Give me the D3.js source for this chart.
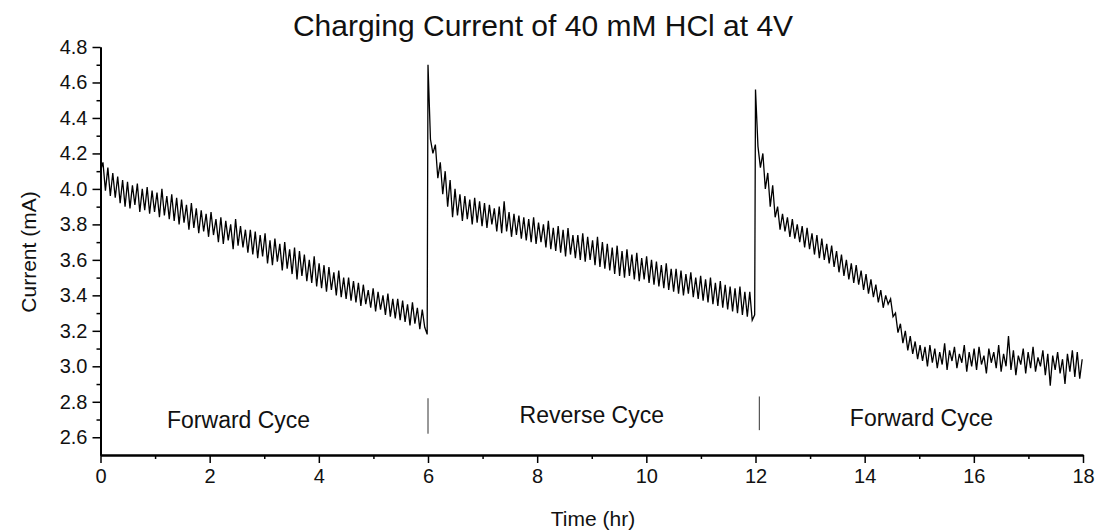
<!DOCTYPE html>
<html>
<head>
<meta charset="utf-8">
<script src="https://cdn.jsdelivr.net/npm/d3@7"></script>
<style>
  html, body { margin: 0; padding: 0; background: #fff; }
  svg { display: block; }
  text { font-family: "Liberation Sans", Arial, sans-serif; fill: #111; }
</style>
</head>
<body>
<svg id="chart" width="1112" height="531"></svg>
<script>
// ---- data ----
const titleText = "Charging Current of 40 mM HCl at 4V";
const xLabel = "Time (hr)";
const yLabel = "Current (mA)";
const xMajorTicks = [0, 2, 4, 6, 8, 10, 12, 14, 16, 18];
const xMinorTicks = [1, 3, 5, 7, 9, 11, 13, 15, 17];
const yMajorTicks = [2.6, 2.8, 3.0, 3.2, 3.4, 3.6, 3.8, 4.0, 4.2, 4.4, 4.6, 4.8];
const yMinorTicks = [2.7, 2.9, 3.1, 3.3, 3.5, 3.7, 3.9, 4.1, 4.3, 4.5, 4.7];
const cycleNames = ["Forward Cyce", "Reverse Cyce", "Forward Cyce"];
const cycleLabelTimes = [2.53, 9.0, 15.04];
const cycleLabelValues = [2.65, 2.68, 2.665];
const cycleDividerTimes = [6.0, 12.07];

const sampleStep = 0.045;          // hours between samples
const segmentStarts = [0, 6, 12];  // hours

const forwardCycle1 = [
  4.10, 4.15, 3.99, 4.12, 3.96, 4.09, 3.95, 4.07, 3.92, 4.05,
  3.90, 4.04, 3.89, 4.02, 3.91, 4.03, 3.87, 4.00, 3.88, 4.01,
  3.86, 3.99, 3.87, 3.98, 3.84, 4.00, 3.85, 3.96, 3.83, 3.97,
  3.82, 3.95, 3.80, 3.94, 3.81, 3.91, 3.77, 3.92, 3.78, 3.89,
  3.75, 3.88, 3.76, 3.86, 3.73, 3.87, 3.74, 3.83, 3.70, 3.84,
  3.69, 3.82, 3.71, 3.80, 3.66, 3.83, 3.68, 3.79, 3.67, 3.77,
  3.64, 3.77, 3.63, 3.76, 3.61, 3.74, 3.62, 3.75, 3.58, 3.71,
  3.57, 3.72, 3.59, 3.69, 3.54, 3.70, 3.55, 3.66, 3.52, 3.67,
  3.49, 3.65, 3.51, 3.63, 3.48, 3.60, 3.47, 3.62, 3.45, 3.58,
  3.44, 3.57, 3.42, 3.56, 3.43, 3.53, 3.40, 3.54, 3.39, 3.50,
  3.38, 3.50, 3.37, 3.48, 3.36, 3.47, 3.34, 3.46, 3.35, 3.43,
  3.33, 3.44, 3.31, 3.42, 3.32, 3.40, 3.29, 3.41, 3.28, 3.38,
  3.27, 3.38, 3.26, 3.37, 3.25, 3.35, 3.23, 3.36, 3.24, 3.33,
  3.21, 3.32, 3.22, 3.18
];

const reverseCycle = [
  4.70, 4.28, 4.20, 4.25, 4.06, 4.15, 3.97, 4.10, 3.90, 4.05,
  3.84, 4.00, 3.85, 3.97, 3.82, 3.96, 3.83, 3.94, 3.80, 3.95,
  3.81, 3.93, 3.79, 3.92, 3.78, 3.91, 3.80, 3.89, 3.76, 3.90,
  3.75, 3.93, 3.76, 3.87, 3.73, 3.86, 3.74, 3.85, 3.72, 3.84,
  3.71, 3.83, 3.70, 3.84, 3.69, 3.81, 3.70, 3.80, 3.67, 3.82,
  3.66, 3.78, 3.65, 3.79, 3.64, 3.77, 3.62, 3.78, 3.63, 3.74,
  3.61, 3.74, 3.60, 3.75, 3.59, 3.73, 3.60, 3.71, 3.57, 3.73,
  3.56, 3.70, 3.55, 3.69, 3.54, 3.67, 3.52, 3.68, 3.51, 3.65,
  3.50, 3.66, 3.51, 3.63, 3.49, 3.64, 3.48, 3.61, 3.49, 3.62,
  3.47, 3.60, 3.46, 3.59, 3.45, 3.57, 3.44, 3.58, 3.43, 3.55,
  3.42, 3.55, 3.41, 3.54, 3.40, 3.52, 3.41, 3.53, 3.39, 3.50,
  3.38, 3.51, 3.37, 3.49, 3.36, 3.50, 3.35, 3.47, 3.34, 3.48,
  3.33, 3.46, 3.32, 3.45, 3.31, 3.44, 3.30, 3.45, 3.29, 3.42,
  3.28, 3.42, 3.26, 3.29
];

const forwardCycle2 = [
  4.56, 4.24, 4.12, 4.20, 4.00, 4.09, 3.90, 4.02, 3.84, 3.90,
  3.77, 3.86, 3.76, 3.84, 3.73, 3.83, 3.72, 3.80, 3.70, 3.79,
  3.67, 3.78, 3.66, 3.75, 3.63, 3.74, 3.61, 3.72, 3.60, 3.69,
  3.58, 3.68, 3.56, 3.65, 3.53, 3.63, 3.51, 3.60, 3.49, 3.58,
  3.47, 3.57, 3.46, 3.54, 3.43, 3.52, 3.41, 3.49, 3.39, 3.46,
  3.36, 3.43, 3.33, 3.40, 3.35, 3.38, 3.28, 3.30, 3.19, 3.24,
  3.13, 3.20, 3.09, 3.17, 3.07, 3.14, 3.04, 3.12, 3.03, 3.11,
  3.00, 3.12, 3.02, 3.10, 2.99, 3.08, 3.01, 3.13, 2.98, 3.09,
  3.03, 3.11, 2.99, 3.07, 3.02, 3.12, 2.97, 3.08, 3.00, 3.10,
  2.98, 3.11, 3.01, 3.06, 2.96, 3.10, 3.02, 3.08, 2.99, 3.12,
  2.97, 3.07, 3.00, 3.17, 2.98, 3.09, 2.95, 3.06, 3.01, 3.10,
  2.96, 3.08, 2.99, 3.11, 2.97, 3.05, 3.00, 3.09, 2.95, 3.07,
  2.89, 3.06, 2.98, 3.08, 2.96, 3.04, 2.90, 3.07, 2.97, 3.09,
  2.94, 3.08, 2.93, 3.04
];

// ---- build ----
const segments = [forwardCycle1, reverseCycle, forwardCycle2];
const points = [];
segments.forEach((vals, s) => {
  vals.forEach((v, i) => points.push({ t: segmentStarts[s] + i * sampleStep, v: v }));
});

const svg = d3.select("#chart");
svg.append("rect").attr("width", 1112).attr("height", 531).attr("fill", "#fff");

const x = d3.scaleLinear().domain([0, 18]).range([100.5, 1083]);
const y = d3.scaleLinear().domain([2.5, 4.8]).range([455, 47]);

// data line
const line = d3.line().x(d => x(d.t)).y(d => y(d.v));
svg.append("path")
  .datum(points)
  .attr("d", line)
  .attr("fill", "none")
  .attr("stroke", "#000")
  .attr("stroke-width", 1.3)
  .attr("stroke-linejoin", "miter");

// axes
const yAxisMajor = d3.axisLeft(y).tickValues(yMajorTicks).tickFormat(d3.format(".1f"))
  .tickSizeInner(8).tickSizeOuter(0).tickPadding(5);
const yAxisMinor = d3.axisLeft(y).tickValues(yMinorTicks).tickFormat("")
  .tickSizeInner(4).tickSizeOuter(0);
const xAxisMajor = d3.axisBottom(x).tickValues(xMajorTicks).tickFormat(d3.format("d"))
  .tickSizeInner(8).tickSizeOuter(0).tickPadding(6);
const xAxisMinor = d3.axisBottom(x).tickValues(xMinorTicks).tickFormat("")
  .tickSizeInner(4).tickSizeOuter(0);

function styleAxis(g) {
  g.select(".domain").attr("stroke", "#000").attr("stroke-width", 2);
  g.selectAll(".tick line").attr("stroke", "#000").attr("stroke-width", 1.5);
  g.selectAll(".tick text").attr("font-size", 20).attr("fill", "#111")
    .attr("font-family", "'Liberation Sans', Arial, sans-serif");
}

svg.append("g").attr("transform", "translate(100.5,0)").call(yAxisMinor).call(styleAxis);
svg.append("g").attr("transform", "translate(100.5,0)").call(yAxisMajor).call(styleAxis);
svg.append("g").attr("transform", "translate(0,455)").call(xAxisMinor).call(styleAxis);
svg.append("g").attr("transform", "translate(0,455)").call(xAxisMajor).call(styleAxis);

// titles
svg.append("text").attr("x", 543).attr("y", 36).attr("text-anchor", "middle")
  .attr("font-size", 30).text(titleText);
svg.append("text").attr("x", 593).attr("y", 526).attr("text-anchor", "middle")
  .attr("font-size", 21).text(xLabel);
svg.append("text").attr("transform", "translate(36,252) rotate(-90)")
  .attr("text-anchor", "middle").attr("font-size", 21).text(yLabel);

// cycle annotations
cycleDividerTimes.forEach((t, i) => {
  svg.append("line")
    .attr("x1", x(t)).attr("x2", x(t))
    .attr("y1", y(i === 0 ? 2.82 : 2.83)).attr("y2", y(i === 0 ? 2.62 : 2.64))
    .attr("stroke", "#333").attr("stroke-width", 1);
});
cycleNames.forEach((name, i) => {
  svg.append("text")
    .attr("x", x(cycleLabelTimes[i])).attr("y", y(cycleLabelValues[i]))
    .attr("text-anchor", "middle").attr("font-size", 23).text(name);
});
</script>
</body>
</html>
